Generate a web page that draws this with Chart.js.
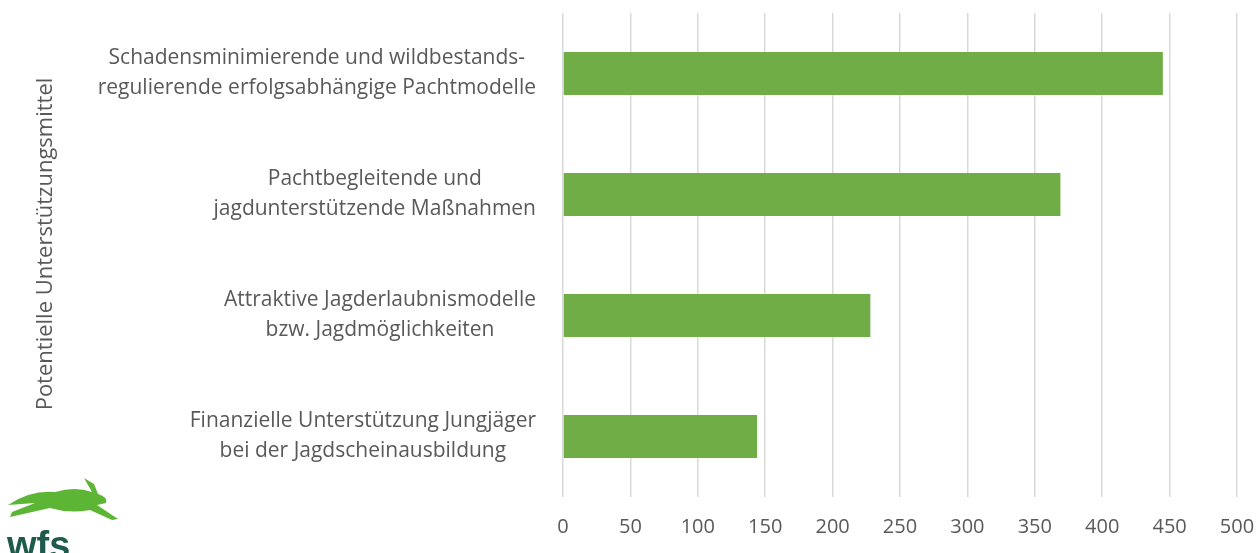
<!DOCTYPE html>
<html>
<head>
<meta charset="utf-8">
<script src="https://cdn.jsdelivr.net/npm/chart.js@4"></script>
<style>
  html, body { margin: 0; padding: 0; background: #fff; }
  #wrap { width: 1256px; height: 553px; position: relative; }
</style>
</head>
<body>
<div id="wrap"><canvas id="chart"></canvas></div>
<script>
var categories = [
    ["Schadensminimierende und wildbestands-", "regulierende erfolgsabhängige Pachtmodelle"],
    ["Pachtbegleitende und", "jagdunterstützende Maßnahmen"],
    ["Attraktive Jagderlaubnismodelle", "bzw. Jagdmöglichkeiten"],
    ["Finanzielle Unterstützung Jungjäger", "bei der Jagdscheinausbildung"]
];
var values = [445, 369, 228, 144];
var axisTitle = "Potentielle Unterstützungsmittel";
var xMax = 500;
var xStep = 50;

var textColor = "#595959";
var fontFamily = "'Open Sans', 'DejaVu Sans', sans-serif";

// category labels: each block centred on itself, blocks right-aligned
var labelPlugin = {
    id: "labels",
    afterDraw: function(chart) {
        var ctx = chart.ctx;
        var yScale = chart.scales.y;
        ctx.save();
        ctx.font = "21px " + fontFamily;
        ctx.fillStyle = textColor;
        ctx.textAlign = "center";
        ctx.textBaseline = "middle";
        var right = 536, lineH = 30;
        categories.forEach(function(lines, i) {
            var y = yScale.getPixelForValue(i);
            var w = 0;
            lines.forEach(function(l) { w = Math.max(w, ctx.measureText(l).width); });
            var cx = right - w / 2;
            var y0 = y - (lines.length - 1) * lineH / 2;
            lines.forEach(function(l, k) { ctx.fillText(l, cx, y0 + k * lineH); });
        });

        // axis title
        ctx.translate(46, 244);
        ctx.rotate(-Math.PI / 2);
        ctx.font = "22px " + fontFamily;
        ctx.fillText(axisTitle, 0, 0);
        ctx.restore();

        // logo
        ctx.save();
        ctx.fillStyle = "#5DB535";
        ctx.beginPath();
        ctx.moveTo(8, 505);
        ctx.quadraticCurveTo(30, 490, 55, 492);
        ctx.quadraticCurveTo(75, 486, 92, 492);
        ctx.lineTo(84, 478);
        ctx.lineTo(94, 484);
        ctx.lineTo(98, 494);
        ctx.quadraticCurveTo(108, 497, 106, 503);
        ctx.lineTo(97, 505);
        ctx.lineTo(118, 519);
        ctx.lineTo(112, 520);
        ctx.lineTo(90, 510);
        ctx.quadraticCurveTo(70, 514, 50, 508);
        ctx.lineTo(10, 517);
        ctx.lineTo(12, 512);
        ctx.lineTo(35, 503);
        ctx.closePath();
        ctx.fill();
        ctx.fillStyle = "#1E5B4C";
        ctx.font = "bold 38px 'Liberation Sans Narrow', 'Liberation Sans', sans-serif";
        ctx.textAlign = "left";
        ctx.textBaseline = "alphabetic";
        ctx.fillText("wfs", 7, 558);
        ctx.restore();
    }
};

var canvas = document.getElementById("chart");
canvas.width = 1256;
canvas.height = 553;

var chart = new Chart(canvas, {
    type: "bar",
    data: {
        labels: categories,
        datasets: [{
            data: values,
            backgroundColor: "#70AD47",
            borderWidth: 0,
            barPercentage: 0.355,
            categoryPercentage: 1
        }]
    },
    options: {
        indexAxis: "y",
        responsive: false,
        animation: false,
        devicePixelRatio: 1,
        layout: { padding: { left: 563, right: 19, top: 13, bottom: -4 } },
        plugins: {
            legend: { display: false },
            tooltip: { enabled: false }
        },
        scales: {
            x: {
                min: 0,
                max: xMax,
                afterFit: function(scale) {
                    scale.paddingLeft = 0;
                    scale.paddingRight = 0;
                },
                ticks: {
                    stepSize: xStep,
                    padding: 18,
                    color: textColor,
                    font: { family: fontFamily, size: 20 }
                },
                grid: { color: "#D9D9D9", lineWidth: 1.5, drawTicks: false },
                border: { display: false }
            },
            y: {
                display: false
            }
        }
    },
    plugins: [labelPlugin]
});
</script>
</body>
</html>
